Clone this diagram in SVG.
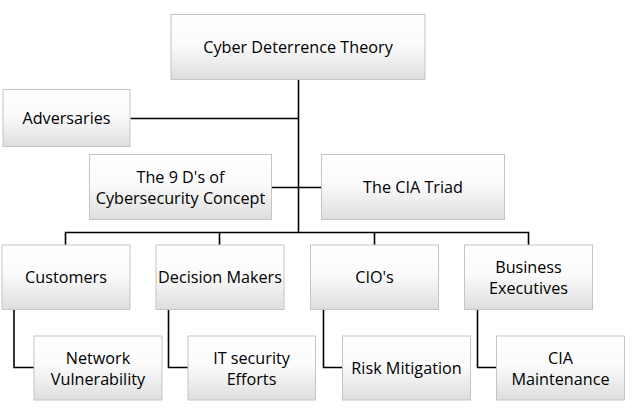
<svg xmlns="http://www.w3.org/2000/svg" width="636" height="411" viewBox="0 0 636 411">
<defs>
<linearGradient id="g" x1="0" y1="0" x2="0" y2="1">
<stop offset="0" stop-color="#ffffff"/>
<stop offset="0.45" stop-color="#fbfbfb"/>
<stop offset="1" stop-color="#dedede"/>
</linearGradient>
</defs>
<style>
.box{fill:url(#g);stroke:#c4c4c4;stroke-width:1}
.t{font-family:"Open Sans","Liberation Sans",sans-serif;font-size:16.2px;fill:#000;text-anchor:middle;dominant-baseline:central}
.c{fill:none;stroke:#000;stroke-width:1.6}
</style>
<rect width="636" height="411" fill="#fff"/>
<g id="connectors">
<path class="c" d="M298.5 79.5V232.5"/>
<path class="c" d="M130.5 118.5H298.5"/>
<path class="c" d="M272 187.5H321"/>
<path class="c" d="M65.5 245V232.5H528.5V245"/>
<path class="c" d="M219.5 232.5V245"/>
<path class="c" d="M374.5 232.5V245"/>
<path class="c" d="M14 309.5V367.5H34"/>
<path class="c" d="M168.5 309.5V367.5H188"/>
<path class="c" d="M323.5 309.5V367.5H342"/>
<path class="c" d="M477.5 309.5V367.5H496"/>
</g>
<g id="n-root"><rect class="box" x="171" y="14.5" width="254" height="65"/><text class="t" x="298" y="47">Cyber Deterrence Theory</text></g>
<g id="n-adv"><rect class="box" x="3" y="89.5" width="127" height="57"/><text class="t" x="66.5" y="118">Adversaries</text></g>
<g id="n-9d"><rect class="box" x="89.5" y="154.5" width="182" height="65"/><text class="t" x="180.5" y="176.5">The 9 D's of</text><text class="t" x="180.5" y="197.5">Cybersecurity Concept</text></g>
<g id="n-cia"><rect class="box" x="321.5" y="154.5" width="183" height="65"/><text class="t" x="413" y="187">The CIA Triad</text></g>
<g id="n-cust"><rect class="box" x="2" y="245" width="128" height="64.5"/><text class="t" x="66" y="277">Customers</text></g>
<g id="n-dm"><rect class="box" x="156" y="245" width="128" height="64.5"/><text class="t" x="220" y="277">Decision Makers</text></g>
<g id="n-cio"><rect class="box" x="310.5" y="245" width="128" height="64.5"/><text class="t" x="374.5" y="277">CIO's</text></g>
<g id="n-be"><rect class="box" x="464.5" y="245" width="128" height="64.5"/><text class="t" x="528.5" y="266.5">Business</text><text class="t" x="528.5" y="287.5">Executives</text></g>
<g id="n-nv"><rect class="box" x="34" y="336" width="128" height="64"/><text class="t" x="98" y="357.5">Network</text><text class="t" x="98" y="378.5">Vulnerability</text></g>
<g id="n-it"><rect class="box" x="188" y="336" width="127.5" height="64"/><text class="t" x="251.5" y="357.5">IT security</text><text class="t" x="251.5" y="378.5">Efforts</text></g>
<g id="n-rm"><rect class="box" x="342.5" y="336" width="128" height="64"/><text class="t" x="406.5" y="367.5">Risk Mitigation</text></g>
<g id="n-cm"><rect class="box" x="496.5" y="336" width="128" height="64"/><text class="t" x="560.5" y="357.5">CIA</text><text class="t" x="560.5" y="378.5">Maintenance</text></g>
</svg>
